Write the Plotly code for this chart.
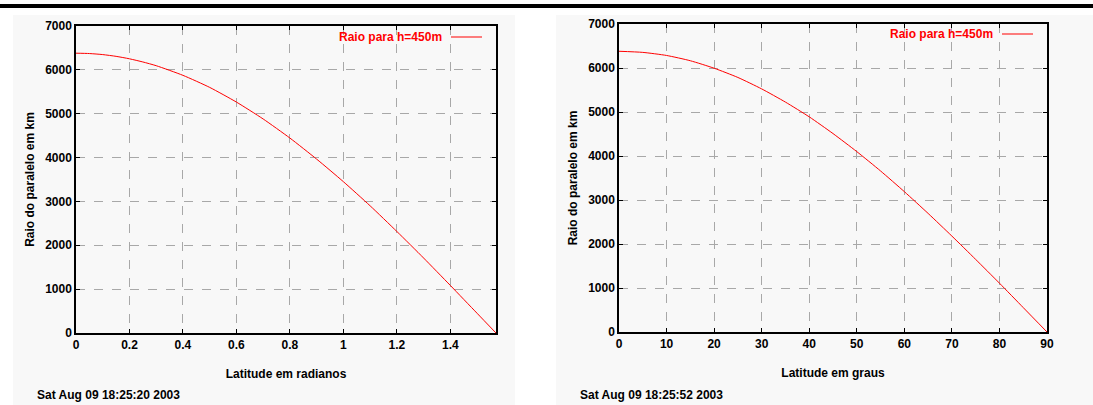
import plotly.graph_objects as go

# Data
lat_rad = [0, 0.05, 0.1, 0.15, 0.2, 0.25, 0.3, 0.4, 0.5, 0.6, 0.7, 0.8, 0.9, 1.0, 1.1, 1.2, 1.3, 1.4, 1.5, 1.5708]
raio_rad = [6380, 6372, 6348, 6308, 6252, 6180, 6095, 5875, 5600, 5265, 4880, 4445, 3965, 3450, 2900, 2315, 1710, 1085, 450, 0]

lat_deg = [0, 5, 10, 15, 20, 25, 30, 35, 40, 45, 50, 55, 60, 65, 70, 75, 80, 85, 90]
raio_deg = [6380, 6355, 6285, 6165, 5995, 5785, 5525, 5225, 4890, 4510, 4100, 3660, 3190, 2695, 2180, 1650, 1110, 555, 0]

x_ticks_rad = [0, 0.2, 0.4, 0.6, 0.8, 1.0, 1.2, 1.4]
x_tick_text_rad = ["0", "0.2", "0.4", "0.6", "0.8", "1", "1.2", "1.4"]
x_ticks_deg = [0, 10, 20, 30, 40, 50, 60, 70, 80, 90]
y_ticks = [0, 1000, 2000, 3000, 4000, 5000, 6000, 7000]

legend_label = "Raio para h=450m"
dates = ["Sat Aug 09 18:25:20 2003", "Sat Aug 09 18:25:52 2003"]
x_titles = ["Latitude em radianos", "Latitude em graus"]
y_title = "Raio do paralelo em km"

W, H = 1093, 405
FONT = "Liberation Sans"
RED = "#ff0000"
FS = 12

fig = go.Figure()
fig.add_trace(go.Scatter(x=lat_rad, y=raio_rad, mode="lines", line=dict(color=RED, width=1, shape="spline", smoothing=0.6),
                         xaxis="x", yaxis="y", showlegend=False))
fig.add_trace(go.Scatter(x=lat_deg, y=raio_deg, mode="lines", line=dict(color=RED, width=1, shape="spline", smoothing=0.6),
                         xaxis="x2", yaxis="y2", showlegend=False))

def px_x(p):
    return p / W

def px_y(p):
    return 1 - p / H

bold = dict(family=FONT, size=FS, color="black", weight="bold")

axis_common = dict(
    showline=True, linecolor="black", linewidth=1.5, mirror="ticks",
    ticks="inside", ticklen=4, tickcolor="black", tickwidth=1,
    showgrid=True, gridcolor="#a8a8a8", griddash="dash", gridwidth=1,
    zeroline=False, automargin=False,
    tickfont=bold,
)

left = (76, 496, 26, 333)
right = (619, 1047, 24, 332)

fig.update_layout(
    width=W, height=H,
    margin=dict(l=0, r=0, t=0, b=0, pad=0, autoexpand=False),
    paper_bgcolor="white",
    plot_bgcolor="white",
    xaxis=dict(domain=[px_x(left[0]), px_x(left[1])], range=[0, 1.5708],
               tickvals=x_ticks_rad, ticktext=x_tick_text_rad, anchor="y",
               title=dict(text=x_titles[0], font=bold, standoff=18),
               **axis_common),
    yaxis=dict(domain=[px_y(left[3]), px_y(left[2])], range=[0, 7000], tickvals=y_ticks, anchor="x",
               title=dict(text=y_title, font=bold, standoff=8),
               **axis_common),
    xaxis2=dict(domain=[px_x(right[0]), px_x(right[1])], range=[0, 90],
                tickvals=x_ticks_deg, anchor="y2",
                title=dict(text=x_titles[1], font=bold, standoff=18),
                **axis_common),
    yaxis2=dict(domain=[px_y(right[3]), px_y(right[2])], range=[0, 7000], tickvals=y_ticks, anchor="x2",
                title=dict(text=y_title, font=bold, standoff=8),
                **axis_common),
)

shapes = []
# light panels behind each chart
for (x0, x1) in [(13, 515), (556, 1093)]:
    shapes.append(dict(type="rect", xref="paper", yref="paper", x0=px_x(x0), x1=px_x(x1),
                       y0=0, y1=px_y(15), fillcolor="#f8f8f8", line=dict(width=0), layer="below"))
# black bar at the top
shapes.append(dict(type="rect", xref="paper", yref="paper", x0=0, x1=1, y0=px_y(8), y1=px_y(4),
                   fillcolor="black", line=dict(width=0)))
# legend line samples
for (lx0, lx1, ly) in [(451, 482, 37), (1002, 1033, 34)]:
    shapes.append(dict(type="line", xref="paper", yref="paper", x0=px_x(lx0), x1=px_x(lx1),
                       y0=px_y(ly), y1=px_y(ly), line=dict(color=RED, width=1)))
fig.update_layout(shapes=shapes)

annotations = []
for (tx, ty) in [(444, 37), (995, 34)]:
    annotations.append(dict(text=legend_label, xref="paper", yref="paper", x=px_x(tx), y=px_y(ty),
                            xanchor="right", yanchor="middle", showarrow=False,
                            font=dict(family=FONT, size=FS, color=RED, weight="bold")))
for (tx, txt) in [(35, dates[0]), (578, dates[1])]:
    annotations.append(dict(text=txt, xref="paper", yref="paper", x=px_x(tx), y=px_y(395),
                            xanchor="left", yanchor="middle", showarrow=False,
                            font=bold))
fig.update_layout(annotations=annotations)

fig.write_html("out.html", config={"displayModeBar": False},
               post_script="document.body.style.margin='0';document.body.style.padding='0';"
                           "document.body.style.overflow='hidden';")
